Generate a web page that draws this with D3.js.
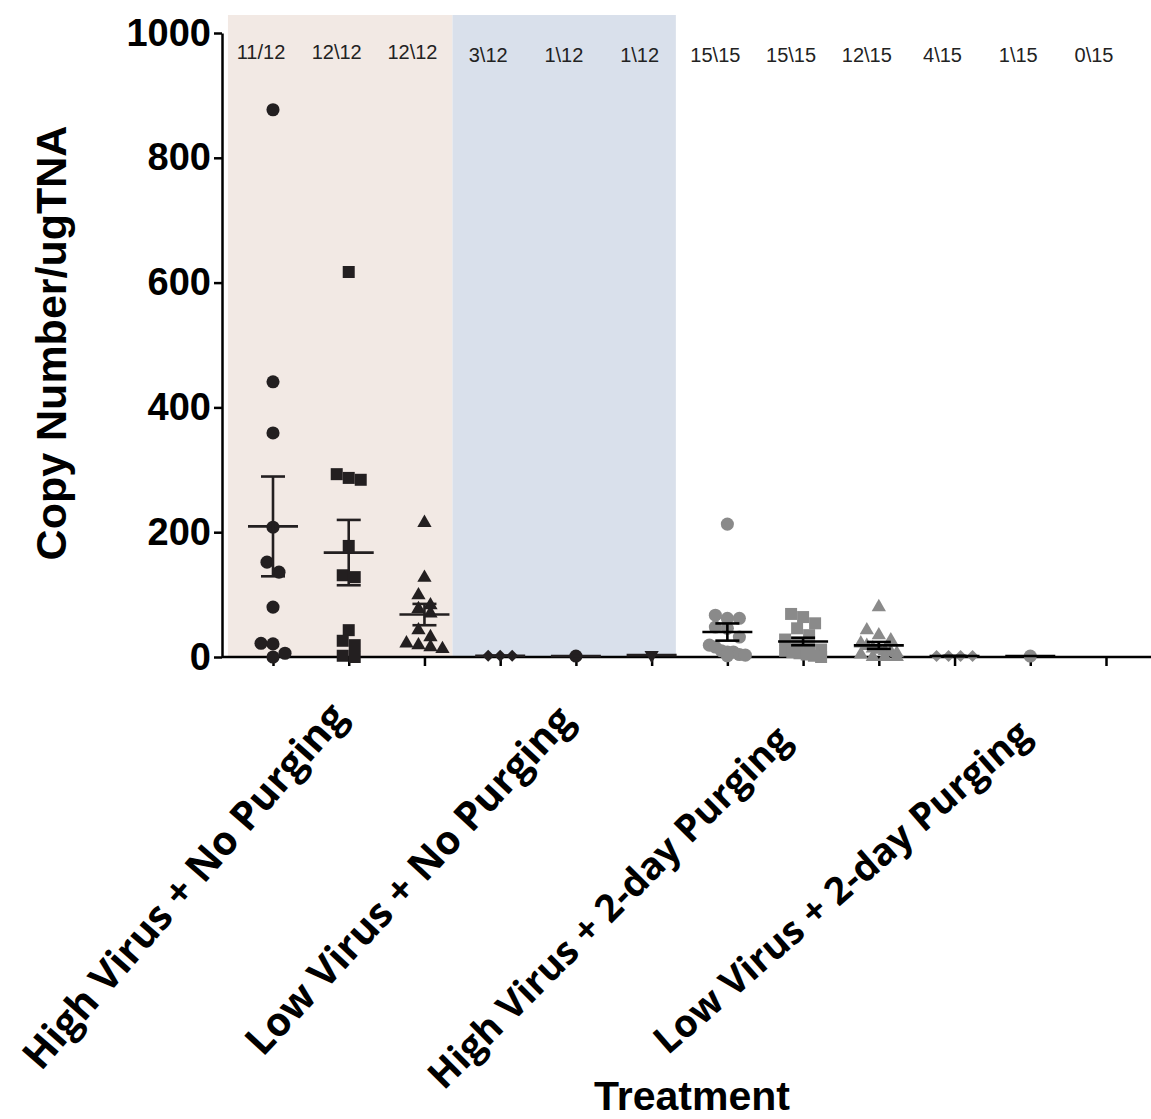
<!DOCTYPE html>
<html>
<head>
<meta charset="utf-8">
<script src="https://cdn.jsdelivr.net/npm/d3@7"></script>
<style>
  html, body { margin: 0; padding: 0; background: #ffffff; }
  svg { display: block; }
</style>
</head>
<body>
<svg id="chart" width="1151" height="1119"></svg>
<script>
// ---------------- DATA ----------------
const groupNames = ["High Virus + No Purging", "Low Virus + No Purging",
                    "High Virus + 2-day Purging", "Low Virus + 2-day Purging"];
const countLabels = ["11/12", "12\\12", "12\\12", "3\\12", "1\\12", "1\\12",
                     "15\\15", "15\\15", "12\\15", "4\\15", "1\\15", "0\\15"];
const yTickValues = [0, 200, 400, 600, 800, 1000];
const yTitle = "Copy Number/ugTNA";
const xTitle = "Treatment";

// per-column values (copy number / ug TNA)
const col1 = [877, 441, 359, 208, 152, 136, 80, 22, 21, 6, 0];
const col2 = [617, 293, 287, 284, 178, 131, 128, 43, 26, 19, 2, 0];
const col3 = [215, 127, 99, 83, 77, 70, 43, 32, 22, 19, 16, 13];
const col4 = [2, 2, 2];
const col5 = [1.5];
const col6 = [3];
const col7 = [213, 67, 62, 62, 48, 46, 32, 19, 16, 10, 8, 8, 4, 3, 2];
const col8 = [69, 64, 54, 46, 35, 28, 20, 15, 12, 10, 8, 6, 4, 2, 0];
const col9 = [80, 43, 35, 27, 22, 18, 14, 12, 10, 8, 6, 4, 0, 0, 0];
const col10 = [1.5, 1.5, 1.5, 1.5];
const col11 = [1.5];
const col12 = [];
const columnValues = [col1, col2, col3, col4, col5, col6, col7, col8, col9, col10, col11, col12];
const columnShapes = ["circle", "square", "triangle", "diamond", "circle", "triangleDown",
                      "circle", "square", "triangle", "diamond", "circle", "triangleDown"];
const columnTone = ["dark", "dark", "dark", "dark", "dark", "dark",
                    "grey", "grey", "grey", "grey", "grey", "grey"];

// ---------------- LAYOUT ----------------
const svg = d3.select("#chart");
const W = 1151, H = 1119;
const colors = { dark: "#231f20", grey: "#8a8a8a" };
const lineColor = { dark: "#231f20", grey: "#000000" };

const x = d3.scaleLinear().domain([0, 11]).range([273, 1106]);
const y = d3.scaleLinear().domain([0, 1000]).range([657, 33]);
const axisX = 222;

// background panels
svg.append("rect")
  .attr("x", x(-0.595)).attr("y", 15)
  .attr("width", x(2.37) - x(-0.595)).attr("height", y(0) - 15)
  .attr("fill", "#f2e9e4");
svg.append("rect")
  .attr("x", x(2.37)).attr("y", 15)
  .attr("width", x(5.32) - x(2.37)).attr("height", y(0) - 15)
  .attr("fill", "#d9e0eb");

// count labels
svg.append("g").selectAll("text").data(countLabels).join("text")
  .attr("x", (d, i) => x(i) - 12)
  .attr("y", (d, i) => i < 3 ? 59 : 62)
  .attr("text-anchor", "middle")
  .attr("font-family", "Liberation Sans, Arial, sans-serif")
  .attr("font-size", 20)
  .attr("fill", "#222")
  .text(d => d);

// y axis
const yAxis = d3.axisLeft(y).tickValues(yTickValues).tickFormat(d3.format("d"))
  .tickSize(8).tickSizeOuter(0).tickPadding(3);
const gy = svg.append("g").attr("transform", `translate(${axisX},0)`).call(yAxis);
gy.select(".domain").attr("stroke", "#000").attr("stroke-width", 2.5);
gy.selectAll(".tick line").attr("stroke", "#000").attr("stroke-width", 2.5);
gy.selectAll(".tick text")
  .attr("font-family", "Liberation Sans, Arial, sans-serif")
  .attr("font-weight", "bold")
  .attr("font-size", 38)
  .attr("fill", "#000");

// x axis
const xAxis = d3.axisBottom(x).tickValues(d3.range(12)).tickFormat("").tickSize(9).tickSizeOuter(0);
const gx = svg.append("g").attr("transform", `translate(0,${y(0)})`).call(xAxis);
gx.select(".domain").remove();
gx.selectAll(".tick line").attr("stroke", "#000").attr("stroke-width", 2.5);
svg.append("line")
  .attr("x1", axisX).attr("x2", W)
  .attr("y1", y(0)).attr("y2", y(0))
  .attr("stroke", "#000").attr("stroke-width", 2.5);

// symbols
function symbolPath(shape) {
  if (shape === "circle") return d3.symbol(d3.symbolCircle, 135)();
  if (shape === "square") return d3.symbol(d3.symbolSquare, 144)();
  if (shape === "triangle" || shape === "triangleDown") return d3.symbol(d3.symbolTriangle, 88)();
  if (shape === "diamond") return d3.symbol(d3.symbolSquare, 72)();
}
function symbolRotate(shape) {
  if (shape === "diamond") return 45;
  if (shape === "triangleDown") return 180;
  return 0;
}

// compact dodge: rows by pixel y, spread symmetrically, clamped width
function dodge(vals) {
  const sorted = vals.map(v => ({ v, py: y(v) })).sort((a, b) => a.py - b.py);
  const rows = [];
  sorted.forEach(p => {
    const last = rows[rows.length - 1];
    if (last && p.py - last[0].py < 10) last.push(p); else rows.push([p]);
  });
  const out = [];
  rows.forEach(r => {
    const n = r.length;
    const step = n > 1 ? Math.min(12, 36 / (n - 1)) : 0;
    r.forEach((p, i) => out.push({ v: p.v, py: p.py, dx: (i - (n - 1) / 2) * step }));
  });
  return out;
}

const gPts = svg.append("g");
columnValues.forEach((vals, i) => {
  const shape = columnShapes[i];
  const pts = dodge(vals);
  gPts.append("g").selectAll("path").data(pts).join("path")
    .attr("d", symbolPath(shape))
    .attr("transform", d => `translate(${x(i) + d.dx},${d.py}) rotate(${symbolRotate(shape)})`)
    .attr("fill", colors[columnTone[i]]);
});

// mean and SEM
const gStats = svg.append("g");
columnValues.forEach((vals, i) => {
  if (vals.length === 0) return;
  const c = lineColor[columnTone[i]];
  const m = d3.mean(vals);
  const cx = x(i);
  gStats.append("line")
    .attr("x1", cx - 25).attr("x2", cx + 25)
    .attr("y1", y(m)).attr("y2", y(m))
    .attr("stroke", c).attr("stroke-width", 2.6);
  if (vals.length > 1) {
    const sem = d3.deviation(vals) / Math.sqrt(vals.length);
    const lo = Math.max(0, m - sem), hi = m + sem;
    gStats.append("line")
      .attr("x1", cx).attr("x2", cx).attr("y1", y(lo)).attr("y2", y(hi))
      .attr("stroke", c).attr("stroke-width", 2.6);
    [lo, hi].forEach(v => {
      gStats.append("line")
        .attr("x1", cx - 12).attr("x2", cx + 12)
        .attr("y1", y(v)).attr("y2", y(v))
        .attr("stroke", c).attr("stroke-width", 2.6);
    });
  }
});

// group labels (rotated)
const labelAngle = [-49, -47, -45, -41];
const labelDx = [0, 0, -10, 3];
const labelY = [718, 722, 742, 738];
const labelSize = [40, 40, 38, 38];
svg.append("g").selectAll("text").data(groupNames).join("text")
  .attr("transform", (d, i) => `translate(${x(i * 3 + 1) + labelDx[i]},${labelY[i]}) rotate(${labelAngle[i]})`)
  .attr("text-anchor", "end")
  .attr("font-family", "Open Sans, sans-serif")
  .attr("font-weight", "bold")
  .attr("font-size", (d, i) => labelSize[i])
  .attr("fill", "#000")
  .text(d => d);

// axis titles
svg.append("text")
  .attr("transform", `translate(66,343) rotate(-90)`)
  .attr("text-anchor", "middle")
  .attr("font-family", "Liberation Sans, Arial, sans-serif")
  .attr("font-weight", "bold")
  .attr("font-size", 43)
  .text(yTitle);
svg.append("text")
  .attr("x", 692).attr("y", 1110)
  .attr("text-anchor", "middle")
  .attr("font-family", "Liberation Sans, Arial, sans-serif")
  .attr("font-weight", "bold")
  .attr("font-size", 41)
  .text(xTitle);
</script>
</body>
</html>
